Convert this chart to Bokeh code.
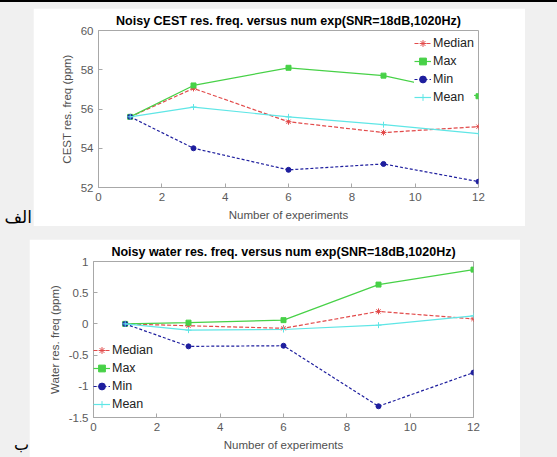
from bokeh.plotting import figure
from bokeh.models import Range1d, FixedTicker, Div
from bokeh.layouts import column, row
from bokeh.embed import file_html
from bokeh.resources import INLINE

# ---------------- data ----------------
num_exp = [1, 3, 6, 9, 12]

cest_median = [55.6, 57.05, 55.35, 54.8, 55.1]
cest_max = [55.6, 57.2, 58.1, 57.7, 56.65]
cest_min = [55.6, 54.0, 52.9, 53.2, 52.3]
cest_mean = [55.6, 56.1, 55.6, 55.2, 54.75]

water_median = [0.0, -0.03, -0.07, 0.2, 0.08]
water_max = [0.0, 0.02, 0.06, 0.63, 0.87]
water_min = [0.0, -0.36, -0.35, -1.32, -0.78]
water_mean = [0.0, -0.1, -0.09, -0.02, 0.13]

x_ticks = [0, 2, 4, 6, 8, 10, 12]
cest_yticks = [52, 54, 56, 58, 60]
water_yticks = [-1.5, -1, -0.5, 0, 0.5, 1]
water_ylabels = ["-1.5", "-1", "-0.5", "0", "0.5", "1"]

series_names = ["Median", "Max", "Min", "Mean"]

titles = ["Noisy CEST res. freq. versus num exp(SNR=18dB,1020Hz)",
          "Noisy water res. freq. versus num exp(SNR=18dB,1020Hz)"]
ylabels = ["CEST res. freq (ppm)", "Water res. freq (ppm)"]
xlabel = "Number of experiments"
panel_tags = ["الف", "ب"]

# ---------------- style ----------------
FONT = "Liberation Sans"
GRAY_BG = "#f0f0f0"
AX = "#a8a8a8"
TICK_TXT = "#5a5a5a"
styles = {
    "Median": dict(color="#e24a4a", dash="4 2", marker="asterisk", size=6),
    "Max": dict(color="#47d147", dash="solid", marker="square", size=5),
    "Min": dict(color="#1e1e9e", dash="3 2", marker="circle", size=5),
    "Mean": dict(color="#5fe6e6", dash="solid", marker="cross", size=6),
}


def make_fig(w, h, yr, yticks, ylab, title, data, ml, mr, mt, mb, overrides=None):
    p = figure(width=w, height=h, x_range=Range1d(0, 12), y_range=Range1d(*yr),
               output_backend="svg", toolbar_location=None,
               min_border_left=ml, min_border_right=mr, min_border_top=mt, min_border_bottom=mb,
               border_fill_color="white", background_fill_color="white",
               outline_line_color=AX)
    p.title.text = title
    p.title.text_font = FONT
    p.title.text_font_size = "12.5px"
    p.title.text_font_style = "bold"
    p.title.text_color = "black"
    p.title.align = "center"
    p.title.standoff = 5
    p.xgrid.visible = False
    p.ygrid.visible = False
    for ax in (p.xaxis[0], p.yaxis[0]):
        ax.minor_tick_line_color = None
        ax.major_tick_in = 4
        ax.major_tick_out = 0
        ax.major_tick_line_color = AX
        ax.axis_line_color = AX
        ax.major_label_text_color = TICK_TXT
        ax.major_label_text_font = FONT
        ax.major_label_text_font_size = "11.5px"
        ax.major_label_standoff = 5
        ax.axis_label_text_font = FONT
        ax.axis_label_text_font_size = "11.5px"
        ax.axis_label_text_font_style = "normal"
        ax.axis_label_text_color = "#505050"
        ax.axis_label_standoff = 5
    p.xaxis[0].ticker = FixedTicker(ticks=x_ticks)
    p.yaxis[0].ticker = FixedTicker(ticks=yticks)
    if overrides:
        p.yaxis[0].major_label_overrides = overrides
    p.xaxis[0].axis_label = xlabel
    p.yaxis[0].axis_label = ylab

    for name, ys in zip(series_names, data):
        st = styles[name]
        p.line(num_exp, ys, line_color=st["color"], line_width=1.2,
               line_dash=st["dash"], legend_label=name)
        p.scatter(num_exp, ys, marker=st["marker"], size=st["size"],
                  line_color=st["color"], fill_color=st["color"], legend_label=name)

    lg = p.legend[0]
    lg.border_line_color = None
    lg.background_fill_color = "white"
    lg.background_fill_alpha = 1.0
    lg.label_text_font = FONT
    lg.label_text_font_size = "12.5px"
    lg.label_text_color = "#222222"
    lg.spacing = 0
    lg.label_height = 18
    lg.glyph_height = 18
    lg.glyph_width = 17
    lg.label_standoff = 2
    return p


fig1 = make_fig(492, 218, (52, 60), cest_yticks, ylabels[0], titles[0],
                [cest_median, cest_max, cest_min, cest_mean],
                65, 47, 22, 39)
lg1 = fig1.legend[0]
lg1.location = "top_right"
lg1.margin = 4
lg1.padding = 4
fig1.margin = (6, 0, 0, 0)

fig2 = make_fig(491, 218, (-1.5, 1), water_yticks, ylabels[1], titles[1],
                [water_median, water_max, water_min, water_mean],
                64, 47, 22, 40,
                overrides={t: s for t, s in zip(water_yticks, water_ylabels)})
lg2 = fig2.legend[0]
lg2.location = (0, 4)
lg2.margin = 0
lg2.padding = 2
lg2.background_fill_alpha = 0.0
fig2.margin = (13, 0, 0, 0)

bar = Div(text="", width=557, height=2, margin=0,
          styles={"background-color": "black"})

tag_style = "font-family:'DejaVu Sans';line-height:1;color:black;text-align:right;"
tag1 = Div(text=f'<div style="{tag_style}font-size:17px;padding-top:207px;width:32px;">{panel_tags[0]}</div>',
           width=33, height=224, margin=0)
tag2 = Div(text=f'<div style="{tag_style}font-size:16px;padding-top:211px;width:29px;">{panel_tags[1]}</div>',
           width=29, height=231, margin=0)

r1 = row(tag1, fig1, spacing=0, margin=0)
r2 = row(tag2, fig2, spacing=0, margin=0)
layout = column(bar, r1, r2, spacing=0, margin=0, width=557, height=457,
                styles={"background-color": GRAY_BG})

open("out.html", "w").write(file_html(layout, INLINE))
